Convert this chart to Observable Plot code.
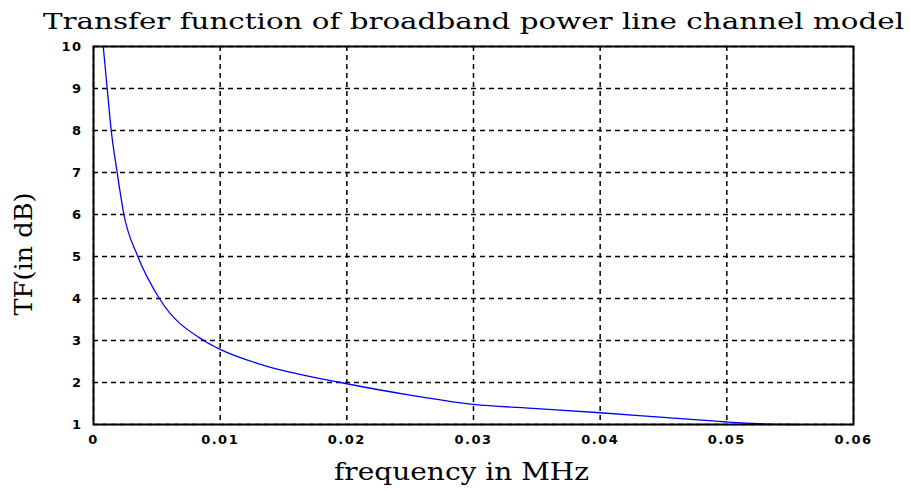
<!DOCTYPE html>
<html>
<head>
<meta charset="utf-8">
<script src="https://cdn.jsdelivr.net/npm/d3@7"></script>
<script src="https://cdn.jsdelivr.net/npm/@observablehq/plot@0.6"></script>
<style>
  html, body { margin: 0; padding: 0; background: #fff; }
  g[aria-label="x-axis tick label"] text, g[aria-label="y-axis tick label"] text { letter-spacing: 1.5px; }
</style>
</head>
<body>
<div id="chart"></div>
<script>
const titleText = "Transfer function of broadband power line channel model";
const xLabel = "frequency in MHz";
const yLabel = "TF(in dB)";

const freq = [0.00077, 0.00108, 0.0014, 0.00187, 0.0024, 0.0035, 0.0052, 0.0087, 0.01, 0.0132, 0.0195, 0.025, 0.03, 0.035, 0.04, 0.045, 0.05, 0.0525, 0.0555];
const tf   = [10, 9, 8, 7, 6, 5, 4, 3, 2.79, 2.43, 2.0, 1.7, 1.48, 1.38, 1.28, 1.17, 1.06, 1.02, 1.0];

const xTicks = [0, 0.01, 0.02, 0.03, 0.04, 0.05, 0.06];
const xTickLabels = ["0", "0.01", "0.02", "0.03", "0.04", "0.05", "0.06"];
const yTicks = [1, 2, 3, 4, 5, 6, 7, 8, 9, 10];

const data = freq.map((f, i) => ({f, tf: tf[i]}));

const chart = Plot.plot({
  width: 911,
  height: 491,
  marginLeft: 93,
  marginRight: 58,
  marginTop: 46,
  marginBottom: 67,
  style: {fontFamily: "DejaVu Sans", fontSize: "12px", color: "#000", background: "#fff"},
  x: {domain: [0, 0.06], ticks: xTicks, tickFormat: (d, i) => xTickLabels[i]},
  y: {domain: [1, 10], ticks: yTicks},
  marks: [
    Plot.gridX(xTicks, {stroke: "#000", strokeOpacity: 1, strokeDasharray: "5,4", strokeWidth: 1.5}),
    Plot.gridY(yTicks, {stroke: "#000", strokeOpacity: 1, strokeDasharray: "5,4", strokeWidth: 1.5}),
    Plot.axisX(xTicks, {tickSize: 0, tickPadding: 10, fontWeight: "bold", fontSize: 13, tickFormat: (d, i) => xTickLabels[i], label: null}),
    Plot.axisY(yTicks, {tickSize: 0, tickPadding: 11, fontWeight: "bold", fontSize: 13, label: null}),
    Plot.line(data, {x: "f", y: "tf", stroke: "#0000ff", strokeWidth: 1.3, curve: "monotone-x"}),
    Plot.frame({stroke: "#000", strokeWidth: 2}),
    Plot.text([titleText], {frameAnchor: "top", dy: -18, lineAnchor: "bottom", fontFamily: "DejaVu Serif", fontSize: 22, fill: "#000", className: "ttl"}),
    Plot.text([xLabel], {frameAnchor: "bottom", dx: -12, dy: 55, lineAnchor: "bottom", fontFamily: "DejaVu Serif", fontSize: 24, fill: "#000", className: "xlbl"}),
    Plot.text([yLabel], {frameAnchor: "left", dx: -69, dy: 80, rotate: -90, textAnchor: "start", fontFamily: "DejaVu Serif", fontSize: 24, fill: "#000", className: "ylbl"})
  ]
});
const svg = d3.select(chart);
svg.selectAll(".ttl text").attr("textLength", 861).attr("lengthAdjust", "spacingAndGlyphs");
svg.selectAll(".xlbl text").attr("textLength", 255).attr("lengthAdjust", "spacingAndGlyphs");
svg.selectAll(".ylbl text").attr("textLength", 123).attr("lengthAdjust", "spacingAndGlyphs");
document.getElementById("chart").appendChild(chart);
</script>
</body>
</html>
